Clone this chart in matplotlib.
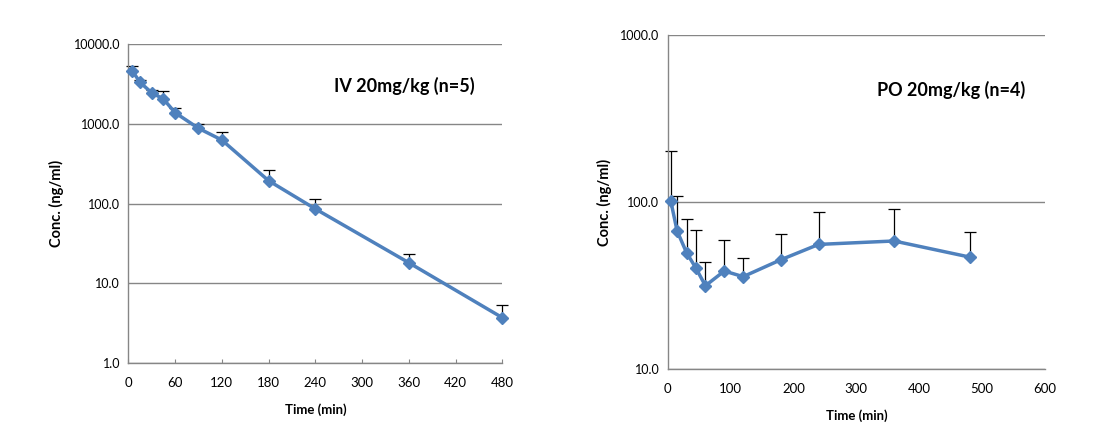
import matplotlib
matplotlib.use('Agg')
import matplotlib.pyplot as plt
from matplotlib.ticker import FixedLocator, FixedFormatter

# --- DATOS ---
iv_time = [5, 15, 30, 45, 60, 90, 120, 180, 240, 360, 480]
iv_conc = [4630, 3310, 2450, 2050, 1380, 880, 627, 194, 86, 18.2, 3.73]
iv_sd = [720, 250, 200, 500, 215, 125, 170, 73, 30, 5.4, 1.6]

po_time = [5, 15, 30, 45, 60, 90, 120, 180, 240, 360, 480]
po_conc = [101, 67.1, 49.8, 40.2, 31.6, 38.7, 35.8, 45.2, 55.8, 58.5, 46.9]
po_sd = [101, 41.5, 29.2, 27.8, 12.2, 20.3, 10.2, 18.9, 30.9, 31.9, 19.0]

iv_xticks = [0, 60, 120, 180, 240, 300, 360, 420, 480]
iv_yticks = [1, 10, 100, 1000, 10000]
po_xticks = [0, 100, 200, 300, 400, 500, 600]
po_yticks = [10, 100, 1000]

line_color = '#4F81BD'
grid_color = '#868686'

plt.rcParams['font.family'] = ['Lato', 'DejaVu Sans']

fig = plt.figure(figsize=(11.13, 4.34), dpi=100)
ax1 = fig.add_axes([0.1153, 0.1629, 0.336, 0.7357])
ax2 = fig.add_axes([0.5999, 0.149, 0.339, 0.771])


def style_axis(ax, xticks, yticks, xlim, ylim, x_tick_len, ylabel_pad):
    ax.set_yscale('log')
    ax.set_xlim(xlim)
    ax.set_ylim(ylim)
    ax.xaxis.set_major_locator(FixedLocator(xticks))
    ax.xaxis.set_major_formatter(FixedFormatter([str(t) for t in xticks]))
    ax.yaxis.set_major_locator(FixedLocator(yticks))
    ax.yaxis.set_major_formatter(FixedFormatter([f'{t:.1f}' for t in yticks]))
    ax.yaxis.set_minor_locator(FixedLocator([]))
    ax.tick_params(axis='x', direction='in', length=x_tick_len, color=grid_color,
                   labelsize=9.5, pad=10)
    ax.tick_params(axis='y', length=0, labelsize=9, pad=6)
    for s in ['top', 'right']:
        ax.spines[s].set_visible(False)
    for s in ['left', 'bottom']:
        ax.spines[s].set_color(grid_color)
        ax.spines[s].set_linewidth(1)
    ax.grid(True, axis='y', color=grid_color, linewidth=1)
    ax.set_axisbelow(True)
    ax.set_xlabel('Time (min)', fontsize=9.5, fontweight='bold', labelpad=10)
    ax.set_ylabel('Conc. (ng/ml)', fontsize=10.5, fontweight='bold',
                  labelpad=ylabel_pad)


def draw_series(ax, t, c, sd):
    ax.errorbar(t, c, yerr=[[0] * len(sd), sd], fmt='none', ecolor='black',
                elinewidth=0.9, capsize=4, capthick=0.9, zorder=2, clip_on=False)
    ax.plot(t, c, color=line_color, linewidth=2.5, marker='D', markersize=6,
            markerfacecolor=line_color, markeredgecolor=line_color, zorder=3,
            clip_on=False)


style_axis(ax1, iv_xticks, iv_yticks, (0, 480), (1, 10000), 3, 7)
draw_series(ax1, iv_time, iv_conc, iv_sd)
ax1.text(0.55, 0.868, 'IV 20mg/kg (n=5)', transform=ax1.transAxes,
         fontsize=13, fontweight='bold', va='center')

style_axis(ax2, po_xticks, po_yticks, (0, 600), (10, 1000), 0, 6)
draw_series(ax2, po_time, po_conc, po_sd)
ax2.text(0.555, 0.835, 'PO 20mg/kg (n=4)', transform=ax2.transAxes,
         fontsize=13, fontweight='bold', va='center')

plt.savefig('out.png', dpi=100)
